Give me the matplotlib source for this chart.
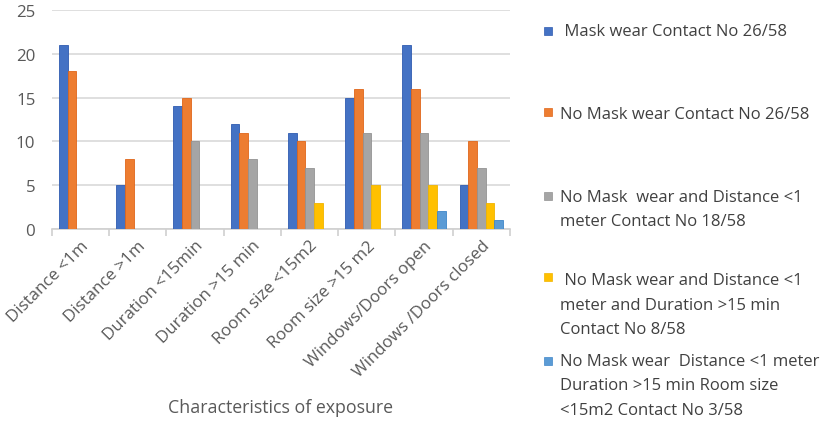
import numpy as np
import matplotlib
matplotlib.use("Agg")
import matplotlib.pyplot as plt
from matplotlib.patches import Rectangle

plt.rcParams['font.family'] = ['Open Sans', 'DejaVu Sans']

# categories and series
categories = ['Distance <1m', 'Distance >1m', 'Duration <15min', 'Duration >15 min',
              'Room size <15m2', 'Room size >15 m2', 'Windows/Doors open',
              'Windows /Doors closed']
mask_wear = [21, 5, 14, 12, 11, 15, 21, 5]
no_mask = [18, 8, 15, 11, 10, 16, 16, 10]
no_mask_dist = [0, 0, 10, 8, 7, 11, 11, 7]
no_mask_dist_dur = [0, 0, 0, 0, 3, 5, 5, 3]
no_mask_dist_dur_room = [0, 0, 0, 0, 0, 0, 2, 1]

series_labels = [
    ' Mask wear Contact No 26/58',
    'No Mask wear Contact No 26/58',
    'No Mask  wear and Distance <1\nmeter Contact No 18/58',
    ' No Mask wear and Distance <1\nmeter and Duration >15 min\nContact No 8/58',
    'No Mask wear  Distance <1 meter\nDuration >15 min Room size\n<15m2 Contact No 3/58',
]
colors = ['#4472C4', '#ED7D31', '#A5A5A5', '#FFC000', '#5B9BD5']
edge_colors = ['#2F5BB0', '#E0661A', '#939393', '#F0B400', '#3F86C8']
series = [mask_wear, no_mask, no_mask_dist, no_mask_dist_dur, no_mask_dist_dur_room]

W, H = 829, 427
fig = plt.figure(figsize=(W / 100, H / 100), dpi=100)
ax = fig.add_axes([52 / W, 1 - 230 / H, (510 - 52) / W, (230 - 11) / H])

x = np.arange(len(categories))
bw = 0.152
for i, vals in enumerate(series):
    ax.bar(x + (i - 2) * bw, vals, width=bw, color=colors[i],
           edgecolor=edge_colors[i], linewidth=0.6, zorder=3)

ax.set_xlim(-0.5, len(categories) - 0.5)
ax.set_ylim(0, 25)
ax.set_yticks(range(0, 26, 5))
ax.yaxis.grid(True, color='#D9D9D9', linewidth=1.2, zorder=0)
for s in ['top', 'right', 'left']:
    ax.spines[s].set_visible(False)
ax.spines['bottom'].set_color('#D0D0D0')
ax.spines['bottom'].set_linewidth(1.2)
ax.tick_params(axis='y', length=0, labelsize=12.2, labelcolor='#595959', pad=12)

# category boundary ticks like Excel
ax.set_xticks(np.arange(-0.5, len(categories), 1.0), minor=False)
ax.set_xticklabels([])
ax.tick_params(axis='x', which='major', length=5, color='#D0D0D0', width=1.2)
ax.set_xticks(x, minor=True)
ax.set_xticklabels(categories, minor=True, rotation=45, ha='right',
                   rotation_mode='anchor', fontsize=12.2, color='#595959')
ax.tick_params(axis='x', which='minor', length=0, pad=6)
ax.set_xlabel('Characteristics of exposure', fontsize=12.8, color='#595959', labelpad=13)

# legend on the right, drawn by hand to match the irregular spacing
legend_base = [36, 119, 202, 285, 366]
legend_sq = [31.5, 113, 197, 278, 362]
line_step = 24.5
for i, lab in enumerate(series_labels):
    yc = legend_sq[i]
    fig.patches.append(Rectangle((544 / W, 1 - (yc + 4) / H), 8 / W, 8 / H,
                                 transform=fig.transFigure, facecolor=colors[i],
                                 edgecolor=edge_colors[i], linewidth=0.5))
    for k, line in enumerate(lab.split('\n')):
        fig.text(560 / W, 1 - (legend_base[i] + k * line_step) / H, line,
                 fontsize=12, color='#404040', va='baseline',
                 transform=fig.transFigure)

fig.savefig('out.png', dpi=100)
